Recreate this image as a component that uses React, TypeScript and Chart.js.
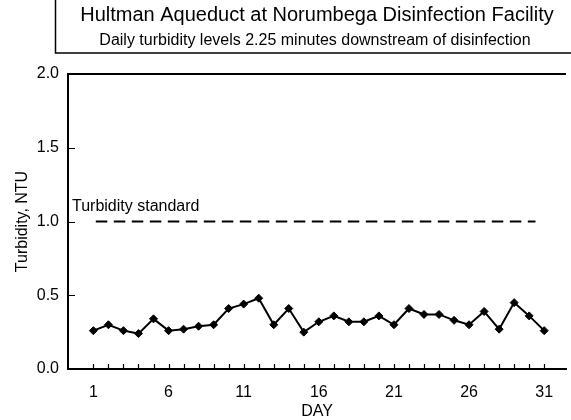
import React, { useEffect, useRef } from 'react';
import { Chart, registerables } from 'chart.js';

Chart.register(...registerables);

const FONT = "'Liberation Sans', Arial, Helvetica, sans-serif";

const titleText = 'Hultman Aqueduct at Norumbega Disinfection Facility';
const subtitleText = 'Daily turbidity levels 2.25 minutes downstream of disinfection';
const xAxisTitle = 'DAY';
const yAxisTitle = 'Turbidity, NTU';
const standardLabel = 'Turbidity standard';

const days = [1, 2, 3, 4, 5, 6, 7, 8, 9, 10, 11, 12, 13, 14, 15, 16, 17, 18, 19, 20, 21, 22, 23, 24, 25, 26, 27, 28, 29, 30, 31];
const turbidityNTU = [0.26, 0.30, 0.26, 0.24, 0.34, 0.26, 0.27, 0.29, 0.30, 0.41, 0.44, 0.48, 0.30, 0.41, 0.25, 0.32, 0.36, 0.32, 0.32, 0.36, 0.30, 0.41, 0.37, 0.37, 0.33, 0.30, 0.39, 0.27, 0.45, 0.36, 0.26];

const standardDays = [1.16, 30.42];
const standardNTU = [1.0, 1.0];

const xTickDays = [1, 6, 11, 16, 21, 26, 31];
const yInnerTicks = [0.5, 1.0, 1.5];

const decorPlugin = {
  id: 'decor',
  afterDraw(chart: any) {
    const { ctx, chartArea, scales } = chart;
    const xs = scales.x;
    const ys = scales.y;
    ctx.save();
    ctx.strokeStyle = '#000';
    // top frame line
    ctx.lineWidth = 2;
    ctx.beginPath();
    ctx.moveTo(chartArea.left, chartArea.top);
    ctx.lineTo(chartArea.right, chartArea.top);
    ctx.stroke();
    // inner x ticks
    ctx.lineWidth = 1.2;
    ctx.beginPath();
    for (const d of days) {
      const px = Math.round(xs.getPixelForValue(d)) + 0.5;
      ctx.moveTo(px, chartArea.bottom);
      ctx.lineTo(px, chartArea.bottom - 5);
    }
    for (const v of yInnerTicks) {
      const py = Math.round(ys.getPixelForValue(v)) + 0.5;
      ctx.moveTo(chartArea.left, py);
      ctx.lineTo(chartArea.left + 7, py);
    }
    ctx.stroke();
    // title box
    ctx.lineWidth = 1.5;
    ctx.beginPath();
    ctx.moveTo(55.5, 0);
    ctx.lineTo(55.5, 53);
    ctx.lineTo(chart.width, 53);
    ctx.stroke();
    // titles
    const cx = (chartArea.left + chartArea.right) / 2;
    ctx.fillStyle = '#000';
    ctx.textAlign = 'center';
    ctx.textBaseline = 'alphabetic';
    ctx.font = `20px ${FONT}`;
    ctx.fillText(titleText, cx, 21);
    ctx.font = `16px ${FONT}`;
    ctx.fillText(subtitleText, cx - 2, 45);
    // standard label
    ctx.textAlign = 'left';
    ctx.fillText(standardLabel, chartArea.left + 4, ys.getPixelForValue(standardNTU[0]) - 11);
    ctx.restore();
  },
};

export default function App() {
  const canvasRef = useRef<HTMLCanvasElement | null>(null);

  useEffect(() => {
    document.body.style.margin = '0';
    const canvas = canvasRef.current;
    if (!canvas) return;
    const chart = new Chart(canvas, {
      type: 'line',
      data: {
        datasets: [
          {
            label: 'Turbidity',
            data: days.map((d, i) => ({ x: d, y: turbidityNTU[i] })),
            borderColor: '#000',
            backgroundColor: '#000',
            borderWidth: 2,
            pointStyle: 'rectRot',
            pointRadius: 4,
            pointBorderWidth: 1,
            pointBackgroundColor: '#000',
            pointBorderColor: '#000',
            tension: 0,
          },
          {
            label: 'Standard',
            data: standardDays.map((d, i) => ({ x: d, y: standardNTU[i] })),
            borderColor: '#000',
            borderWidth: 2,
            borderDash: [11.5, 6.5],
            pointRadius: 0,
            tension: 0,
          },
        ],
      },
      options: {
        animation: false,
        responsive: false,
        devicePixelRatio: 1,
        layout: { padding: { top: 74, right: 0, bottom: 0, left: 0 } },
        plugins: {
          legend: { display: false },
          tooltip: { enabled: false },
          title: { display: false },
        },
        scales: {
          x: {
            type: 'linear',
            min: -0.69,
            max: 32.45,
            afterBuildTicks: (scale: any) => {
              scale.ticks = xTickDays.map((v) => ({ value: v }));
            },
            afterFit: (scale: any) => {
              scale.height = 51;
            },
            grid: { display: false, drawTicks: false },
            border: { display: true, color: '#000', width: 2 },
            ticks: {
              autoSkip: false,
              maxRotation: 0,
              padding: 14,
              color: '#000',
              font: { family: FONT, size: 16 },
              callback: (v: any) => String(v),
            },
            title: {
              display: true,
              text: xAxisTitle,
              color: '#000',
              font: { family: FONT, size: 16, lineHeight: 1.0 },
              padding: { top: 0, bottom: 0 },
            },
          },
          y: {
            type: 'linear',
            min: 0,
            max: 2,
            ticks: {
              stepSize: 0.5,
              padding: 9,
              color: '#000',
              font: { family: FONT, size: 16 },
              callback: (v: any) => Number(v).toFixed(1),
            },
            afterFit: (scale: any) => {
              scale.width = 68;
            },
            grid: { display: false, drawTicks: false },
            border: { display: true, color: '#000', width: 2 },
            title: {
              display: true,
              text: yAxisTitle,
              color: '#000',
              font: { family: FONT, size: 16, lineHeight: 1.2 },
              padding: { top: 13, bottom: 0 },
            },
          },
        },
      },
      plugins: [decorPlugin],
    } as any);
    return () => chart.destroy();
  }, []);

  return (
    <div style={{ width: 571, height: 420, background: '#fff' }}>
      <canvas ref={canvasRef} width={571} height={420} style={{ display: 'block', width: 571, height: 420 }} />
    </div>
  );
}
